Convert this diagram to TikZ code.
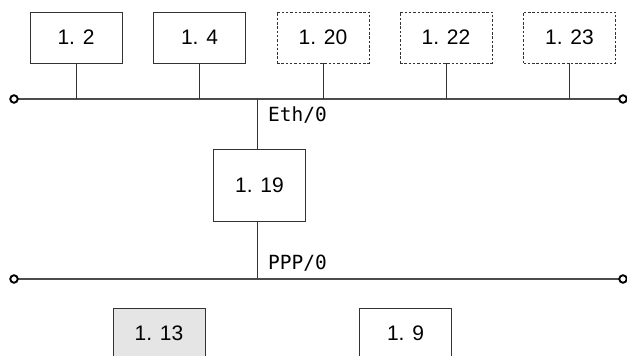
\documentclass[tikz,border=0pt]{standalone}
\usepackage{fontspec}
\setmainfont{Liberation Sans}
\newfontfamily\labelfont{DejaVu Sans Mono}
\begin{document}
\begin{tikzpicture}[x=1pt,y=-1pt,
  hostbox/.style={draw=black!80, line width=0.8pt, minimum width=92pt, minimum height=51pt, inner sep=0pt, font=\fontsize{21}{21}\selectfont},
  dashbox/.style={hostbox, dash pattern=on 2.5pt off 1.8pt},
  router/.style={hostbox, minimum height=72pt},
  bus/.style={draw=black!70, line width=1.3pt},
  stub/.style={draw=black!80, line width=0.8pt},
  endpt/.style={circle, draw=black, line width=1.9pt, minimum size=7.5pt, inner sep=0pt, fill=white},
  iflabel/.style={anchor=west, inner sep=0pt, font=\labelfont\fontsize{19.5}{19.5}\selectfont}]
\clip (0,0) rectangle (627,356);
\fill[white] (0,0) rectangle (627,356);
% top hosts
\node[hostbox] (h2) at (76,37.5) {1. 2};
\node[hostbox] (h4) at (199.5,37.5) {1. 4};
\node[dashbox] (h20) at (323,37.5) {1. 20};
\node[dashbox] (h22) at (446,37.5) {1. 22};
\node[dashbox] (h23) at (569.5,37.5) {1. 23};
% ethernet bus
\coordinate (eL) at (14,99);
\coordinate (eR) at (623,99);
\draw[bus] (eL) -- (eR);
\node[endpt] (eLc) at (eL) {};
\node[endpt] (eRc) at (eR) {};
\foreach \h in {h2,h4,h20,h22,h23} \draw[stub] (\h.south) -- (\h.south |- eL);
% router
\node[router] (r) at (259.5,185) {1. 19};
\coordinate (rx) at (257,99);
\coordinate (ry) at (257,279);
\draw[stub] (rx) -- (rx |- r.north);
\draw[stub] (ry |- r.south) -- (ry);
\node[iflabel] (eth) at (268,115) {Eth/0};
\node[iflabel] (ppp) at (268,263.5) {PPP/0};
% PPP bus
\coordinate (pL) at (14,279);
\coordinate (pR) at (623,279);
\draw[bus] (pL) -- (pR);
\node[endpt] (pLc) at (pL) {};
\node[endpt] (pRc) at (pR) {};
% bottom hosts
\node[hostbox, fill=black!10] (h13) at (159,333.5) {1. 13};
\node[hostbox] (h9) at (405.5,333.5) {1. 9};
\end{tikzpicture}
\end{document}
